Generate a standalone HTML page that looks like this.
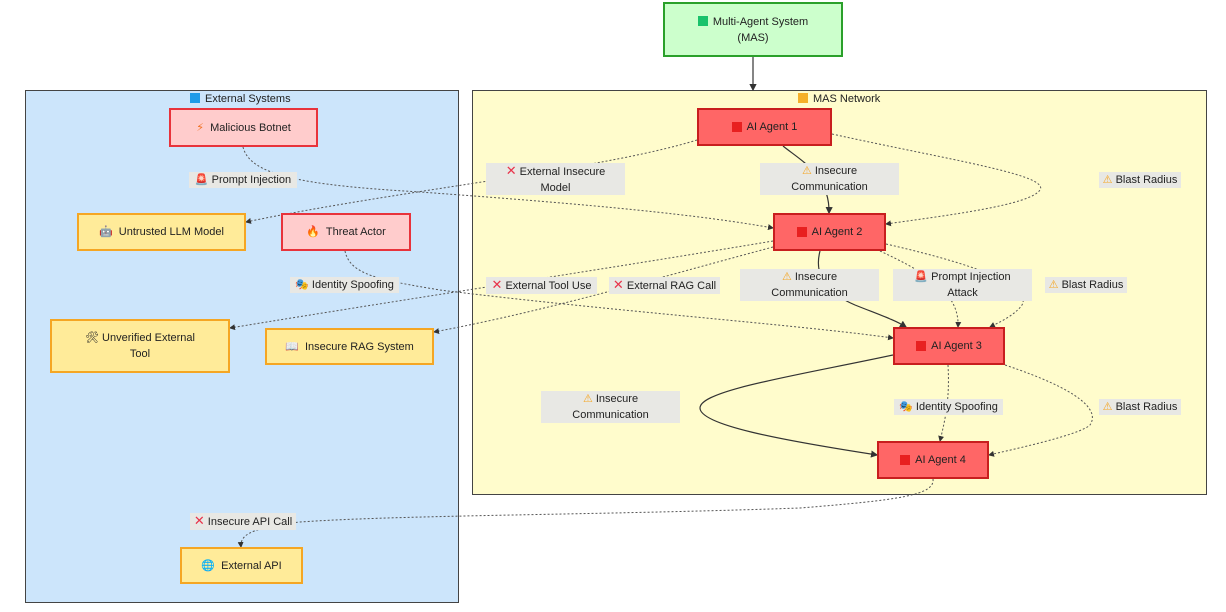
<!DOCTYPE html>
<html><head><meta charset="utf-8"><style>
body{margin:0;width:1226px;height:612px;background:#fff;position:relative;overflow:hidden;font-family:"Liberation Sans","DejaVu Sans",sans-serif;font-size:11px;color:#222}
.b{position:absolute;box-sizing:border-box;display:flex;align-items:center;justify-content:center;text-align:center;line-height:16px}
.cl{position:absolute;box-sizing:border-box;border:1.5px solid #444}
.pk{background:#ffcccc;border:2px solid #e8333b}
.yl{background:#ffeb99;border:2px solid #f5a623}
.ag{background:#ff6666;border:2px solid #c81e1e}
.lb{position:absolute;background:#e8e8e4;text-align:center;line-height:16px;padding:0 3px;box-sizing:border-box}
.sq{display:inline-block;width:10px;height:10px;margin-right:5px;vertical-align:-1px}
.x{color:#e8334a;font-weight:bold;font-size:13px}
.w{color:#f5a623}
svg{position:absolute;left:0;top:0}
</style></head><body>
<div class="cl" style="left:25px;top:90px;width:434px;height:513px;background:#cce5fb"></div>
<div class="cl" style="left:472px;top:90px;width:735px;height:405px;background:#fffccc"></div>
<div style="position:absolute;left:190px;top:93px"><span class="sq" style="background:#1e9be8"></span>External Systems</div>
<div style="position:absolute;left:798px;top:93px"><span class="sq" style="background:#f5b02a"></span>MAS Network</div>

<svg width="1226" height="612" fill="none">
<defs><marker id="a" markerWidth="6" markerHeight="6" refX="5" refY="3" orient="auto"><path d="M0,0L6,3L0,6z" fill="#333"/></marker></defs>
<g stroke="#555" stroke-width="1" stroke-dasharray="2,2" marker-end="url(#a)">
<path d="M243,147 C250,175 300,185 420,192 C600,205 700,215 773,228"/>
<path d="M697,140 C600,170 400,190 246,222"/>
<path d="M832,134 C950,160 1050,175 1040,190 C1030,205 950,215 886,224"/>
<path d="M345,251 C350,275 380,280 440,290 C600,310 800,325 893,338"/>
<path d="M773,241 C600,270 400,300 230,328"/>
<path d="M773,247 C650,280 550,310 434,332"/>
<path d="M886,244 C1000,270 1030,290 1022,305 C1015,315 1000,322 990,327"/>
<path d="M880,251 C920,270 960,290 958,327"/>
<path d="M948,365 C950,400 945,420 940,441"/>
<path d="M1005,365 C1080,390 1100,410 1090,425 C1080,435 1010,450 989,455"/>
<path d="M933,479 C935,495 900,500 800,508 C600,515 400,515 300,522 C250,528 240,535 241,547"/>
</g>
<g stroke="#333" stroke-width="1.2" marker-end="url(#a)">
<path d="M753,57 L753,90"/>
<path d="M783,146 C800,160 830,175 829,213"/>
<path d="M820,251 C815,270 820,290 855,305 C880,315 895,320 906,327"/>
<path d="M893,355 C800,375 700,390 700,408 C700,425 780,440 877,455"/>
</g>
</svg>

<div class="b" style="left:663px;top:2px;width:180px;height:55px;background:#ccffcc;border:2px solid #2aa02a">
<div><span class="sq" style="background:#19c26b"></span>Multi-Agent System<br>(MAS)</div></div>
<div class="b pk" style="left:169px;top:108px;width:149px;height:39px"><span style="color:#f07020">⚡</span>&nbsp; Malicious Botnet</div>
<div class="b yl" style="left:77px;top:213px;width:169px;height:38px">🤖&nbsp; Untrusted LLM Model</div>
<div class="b pk" style="left:281px;top:213px;width:130px;height:38px"><span style="color:#f07020">🔥</span>&nbsp; Threat Actor</div>
<div class="b yl" style="left:50px;top:319px;width:180px;height:54px">🛠 Unverified External<br>Tool</div>
<div class="b yl" style="left:265px;top:328px;width:169px;height:37px">📖&nbsp; Insecure RAG System</div>
<div class="b yl" style="left:180px;top:547px;width:123px;height:37px">🌐&nbsp; External API</div>
<div class="b ag" style="left:697px;top:108px;width:135px;height:38px"><span class="sq" style="background:#e82020"></span>AI Agent 1</div>
<div class="b ag" style="left:773px;top:213px;width:113px;height:38px"><span class="sq" style="background:#e82020"></span>AI Agent 2</div>
<div class="b ag" style="left:893px;top:327px;width:112px;height:38px"><span class="sq" style="background:#e82020"></span>AI Agent 3</div>
<div class="b ag" style="left:877px;top:441px;width:112px;height:38px"><span class="sq" style="background:#e82020"></span>AI Agent 4</div>

<div class="lb" style="left:189px;top:172px;width:108px">🚨 Prompt Injection</div>
<div class="lb" style="left:486px;top:163px;width:139px;height:32px;padding-top:0"><span class="x">✕</span> External Insecure<br>Model</div>
<div class="lb" style="left:760px;top:163px;width:139px;height:32px"><span class="w">⚠</span> Insecure<br>Communication</div>
<div class="lb" style="left:1099px;top:172px;width:82px"><span class="w">⚠</span> Blast Radius</div>
<div class="lb" style="left:290px;top:277px;width:109px">🎭 Identity Spoofing</div>
<div class="lb" style="left:486px;top:277px;width:111px"><span class="x">✕</span> External Tool Use</div>
<div class="lb" style="left:609px;top:277px;width:111px"><span class="x">✕</span> External RAG Call</div>
<div class="lb" style="left:740px;top:269px;width:139px;height:32px"><span class="w">⚠</span> Insecure<br>Communication</div>
<div class="lb" style="left:893px;top:269px;width:139px;height:32px">🚨 Prompt Injection<br>Attack</div>
<div class="lb" style="left:1045px;top:277px;width:82px"><span class="w">⚠</span> Blast Radius</div>
<div class="lb" style="left:541px;top:391px;width:139px;height:32px"><span class="w">⚠</span> Insecure<br>Communication</div>
<div class="lb" style="left:894px;top:399px;width:109px">🎭 Identity Spoofing</div>
<div class="lb" style="left:1099px;top:399px;width:82px"><span class="w">⚠</span> Blast Radius</div>
<div class="lb" style="left:190px;top:513px;width:106px"><span class="x">✕</span> Insecure API Call</div>
</body></html>
